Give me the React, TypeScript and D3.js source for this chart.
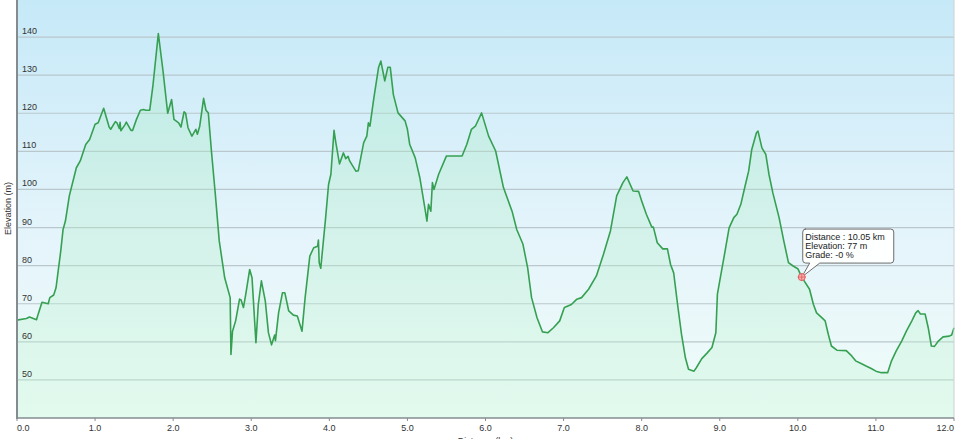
import React from "react";
import * as d3 from "d3";

// elevation profile
const distanceKm = [
  0.0, 0.12, 0.16, 0.25, 0.27, 0.32, 0.36, 0.4, 0.42, 0.47, 0.5, 0.53, 0.56, 0.59, 0.62, 0.67, 0.76, 0.81, 0.88, 0.93,
  1.0, 1.04, 1.11, 1.18, 1.2, 1.26, 1.28, 1.31, 1.32, 1.33, 1.38, 1.4, 1.46, 1.48, 1.53, 1.58, 1.62, 1.65, 1.7, 1.74,
  1.81, 1.87, 1.93, 1.98, 2.01, 2.07, 2.1, 2.14, 2.16, 2.19, 2.24, 2.29, 2.31, 2.34, 2.39, 2.42, 2.45, 2.49, 2.54, 2.59,
  2.66, 2.73, 2.74, 2.76, 2.8, 2.85, 2.87, 2.9, 2.93, 2.98, 3.01, 3.06, 3.09, 3.13, 3.18, 3.22, 3.26, 3.3, 3.31, 3.35,
  3.4, 3.43, 3.48, 3.54, 3.59, 3.65, 3.69, 3.75, 3.8, 3.85, 3.86, 3.87, 3.89, 3.95, 3.99, 4.02, 4.06, 4.08, 4.13, 4.18,
  4.21, 4.24, 4.26, 4.34, 4.37, 4.44, 4.48, 4.5, 4.52, 4.57, 4.63, 4.66, 4.71, 4.75, 4.78, 4.82, 4.88, 4.97, 5.0, 5.03,
  5.1, 5.16, 5.23, 5.25, 5.27, 5.3, 5.32, 5.34, 5.4, 5.5, 5.7, 5.76, 5.82, 5.87, 5.95, 6.04, 6.13, 6.23, 6.34, 6.4,
  6.48, 6.54, 6.59, 6.66, 6.73, 6.8, 6.87, 6.95, 7.01, 7.1, 7.17, 7.23, 7.32, 7.42, 7.51, 7.6, 7.68, 7.76, 7.81, 7.89,
  7.96, 8.0, 8.06, 8.13, 8.15, 8.2, 8.27, 8.33, 8.37, 8.41, 8.46, 8.51, 8.56, 8.6, 8.67, 8.7, 8.77, 8.84, 8.9, 8.95,
  8.97, 9.0, 9.05, 9.12, 9.18, 9.22, 9.27, 9.32, 9.37, 9.41, 9.47, 9.49, 9.54, 9.59, 9.63, 9.68, 9.76, 9.82, 9.88, 9.94,
  10.0, 10.05, 10.15, 10.2, 10.24, 10.31, 10.35, 10.39, 10.43, 10.5, 10.62, 10.69, 10.74, 10.81, 10.88, 10.94, 11.0, 11.07, 11.15, 11.2,
  11.26, 11.33, 11.39, 11.46, 11.51, 11.54, 11.57, 11.63, 11.67, 11.71, 11.75, 11.8, 11.86, 11.94, 11.97, 12.0,
];

const elevationM = [
  65.7, 66.1, 66.5, 65.8, 67.2, 70.4, 70.2, 70.0, 71.6, 72.3, 74.2, 79.0, 83.8, 89.5, 91.7, 98.3, 105.7, 107.5, 111.8, 113.1,
  117.1, 117.5, 121.3, 116.4, 115.8, 117.8, 117.5, 116.0, 117.6, 115.4, 116.9, 117.7, 115.5, 115.5, 118.4, 120.8, 121.0, 120.8, 120.8, 127.1,
  140.9, 131.1, 120.0, 123.6, 118.4, 117.5, 116.4, 120.4, 120.0, 116.2, 114.0, 115.8, 114.5, 116.6, 123.9, 120.8, 120.1, 110.1, 98.7, 86.5,
  76.8, 71.6, 56.7, 62.8, 65.5, 71.2, 71.0, 69.0, 72.5, 79.0, 76.8, 59.8, 69.8, 76.0, 70.7, 62.4, 59.2, 61.8, 60.3, 67.6,
  72.9, 72.9, 68.1, 67.0, 66.8, 62.8, 71.6, 82.5, 84.7, 85.1, 86.7, 80.8, 79.3, 92.0, 101.3, 104.0, 115.5, 112.7, 106.7, 109.6,
  108.1, 108.7, 107.5, 104.8, 104.9, 112.3, 114.0, 117.5, 116.6, 124.0, 132.0, 133.7, 128.5, 132.1, 132.1, 124.9, 120.1, 118.0, 115.8, 111.8,
  108.3, 103.0, 94.3, 91.7, 96.1, 94.3, 101.8, 100.0, 104.0, 108.8, 108.8, 111.8, 115.8, 116.6, 120.1, 114.0, 110.1, 100.5, 94.3, 89.5,
  85.6, 79.4, 71.6, 66.3, 62.6, 62.4, 63.7, 65.5, 69.0, 69.8, 71.2, 71.6, 73.8, 77.3, 82.9, 89.1, 98.3, 101.8, 103.3, 99.6,
  99.5, 97.0, 93.5, 90.1, 90.1, 86.0, 84.4, 84.4, 80.3, 78.1, 69.8, 62.0, 55.8, 52.8, 52.3, 53.2, 55.6, 57.1, 58.5, 62.4,
  72.5, 76.0, 81.7, 89.9, 92.6, 93.5, 96.1, 100.5, 104.8, 110.5, 114.9, 115.3, 110.9, 109.2, 104.0, 99.1, 92.6, 86.5, 80.8, 79.9,
  79.2, 77.0, 73.8, 69.8, 67.6, 66.3, 65.5, 62.0, 58.9, 57.8, 57.7, 56.3, 55.0, 54.3, 53.6, 53.0, 52.3, 51.9, 51.9, 55.0,
  57.6, 60.2, 62.8, 65.5, 67.6, 68.2, 67.3, 67.3, 63.7, 58.9, 58.8, 60.2, 61.3, 61.5, 61.8, 63.7,
];

const yTicks = [50, 60, 70, 80, 90, 100, 110, 120, 130, 140];
const xTicks = [0, 1, 2, 3, 4, 5, 6, 7, 8, 9, 10, 11, 12];

const tooltipLines = ["Distance : 10.05 km", "Elevation: 77 m", "Grade: -0 %"];
const tooltipKm = 10.05;
const tooltipM = 77;

const width = 960;
const height = 439;
const plot = { left: 17, right: 954, top: -1, bottom: 418 };
const font = "'Liberation Sans', Arial, sans-serif";

export default function App() {
  const points = distanceKm.map((d, i) => ({ km: d, m: elevationM[i] }));

  const x = d3.scaleLinear().domain([0, 12]).range([plot.left, plot.right]);
  const y = d3.scaleLinear().domain([40, 150]).range([plot.bottom, plot.top]);

  const line = d3
    .line<{ km: number; m: number }>()
    .x((d) => x(d.km))
    .y((d) => y(d.m));
  const area = d3
    .area<{ km: number; m: number }>()
    .x((d) => x(d.km))
    .y0(plot.bottom)
    .y1((d) => y(d.m));

  const tx = x(tooltipKm);
  const ty = y(tooltipM);
  const box = { x: tx + 1, y: ty - 48, w: 91, h: 34 };

  return (
    <svg
      width={width}
      height={height}
      style={{ position: "absolute", left: 0, top: 0, background: "#fff" }}
    >
      <defs>
        <linearGradient id="bg" x1="0" y1="0" x2="0" y2="1">
          <stop offset="0%" stopColor="#c6e9f8" />
          <stop offset="55%" stopColor="#e4f4fb" />
          <stop offset="100%" stopColor="#f1fcf9" />
        </linearGradient>
        <linearGradient id="fill" x1="0" y1="0" x2="0" y2="1">
          <stop offset="0%" stopColor="#9be8b8" stopOpacity={0.3} />
          <stop offset="100%" stopColor="#c8f5d8" stopOpacity={0.35} />
        </linearGradient>
      </defs>

      {/* plot background */}
      <rect
        x={plot.left}
        y={0}
        width={plot.right - plot.left}
        height={plot.bottom}
        fill="url(#bg)"
      />

      {/* grid */}
      {yTicks.map((t) => (
        <line
          key={t}
          x1={plot.left}
          x2={plot.right}
          y1={y(t)}
          y2={y(t)}
          stroke="#bac7cc"
          strokeWidth={1.2}
        />
      ))}

      <path d={area(points) || ""} fill="url(#fill)" />
      <path
        d={line(points) || ""}
        fill="none"
        stroke="#36a052"
        strokeWidth={1.6}
        strokeLinejoin="round"
      />

      {/* right border */}
      <line x1={plot.right} x2={plot.right} y1={0} y2={plot.bottom} stroke="#c9d2d6" />

      {/* axes */}
      <line x1={plot.left} x2={plot.left} y1={0} y2={plot.bottom + 1} stroke="#858c90" strokeWidth={2} />
      <line x1={plot.left} x2={plot.right} y1={plot.bottom} y2={plot.bottom} stroke="#858c90" strokeWidth={1.5} />

      {yTicks.map((t) => (
        <text key={t} x={22} y={y(t) - 3} fontFamily={font} fontSize={9} fill="#333">
          {t}
        </text>
      ))}

      {xTicks.map((t, i) => (
        <g key={t}>
          <line x1={x(t)} x2={x(t)} y1={plot.bottom} y2={plot.bottom + 3} stroke="#858c90" />
          <text
            x={i === 0 ? x(t) : i === xTicks.length - 1 ? x(t) : x(t)}
            y={431}
            textAnchor={i === 0 ? "start" : i === xTicks.length - 1 ? "end" : "middle"}
            fontFamily={font}
            fontSize={9}
            fill="#333"
          >
            {t.toFixed(1)}
          </text>
        </g>
      ))}

      <text
        transform={`translate(11,${(plot.top + plot.bottom) / 2}) rotate(-90)`}
        textAnchor="middle"
        fontFamily={font}
        fontSize={9}
        fill="#333"
      >
        Elevation (m)
      </text>
      <text
        x={(plot.left + plot.right) / 2}
        y={444}
        textAnchor="middle"
        fontFamily={font}
        fontSize={9}
        fill="#333"
      >
        Distance (km)
      </text>

      {/* hover marker + tooltip */}
      <g>
        <path
          d={`M${box.x + 2},${box.y} H${box.x + box.w - 3} Q${box.x + box.w},${box.y} ${box.x + box.w},${box.y + 3}
              V${box.y + box.h - 3} Q${box.x + box.w},${box.y + box.h} ${box.x + box.w - 3},${box.y + box.h}
              H${box.x + 17} L${tx},${ty} L${box.x + 7},${box.y + box.h} H${box.x + 3}
              Q${box.x},${box.y + box.h} ${box.x},${box.y + box.h - 3} V${box.y + 3} Q${box.x},${box.y} ${box.x + 3},${box.y} Z`}
          fill="#fff"
          fillOpacity={0.95}
          stroke="#6d6d6d"
          strokeWidth={1}
        />
        {tooltipLines.map((s, i) => (
          <text key={s} x={box.x + 2.5} y={box.y + 11 + i * 9.2} fontFamily={font} fontSize={9} fill="#222">
            {s}
          </text>
        ))}
        <circle cx={tx} cy={ty} r={3.5} fill="#f6b0b0" stroke="#e25c5c" strokeWidth={1} />
        <path
          d={`M${tx - 4},${ty} H${tx + 4} M${tx},${ty - 4} V${ty + 4}`}
          stroke="#e25c5c"
          strokeWidth={0.8}
        />
      </g>
    </svg>
  );
}
